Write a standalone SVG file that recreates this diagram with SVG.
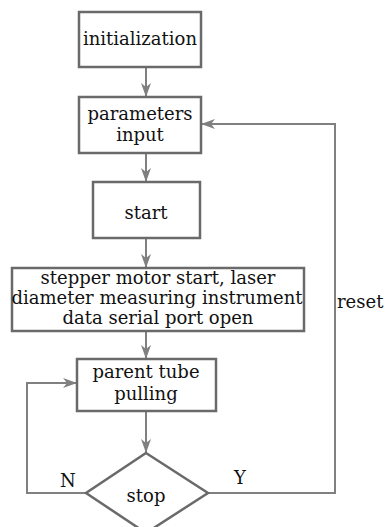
<svg xmlns="http://www.w3.org/2000/svg" width="388" height="527" viewBox="0 0 388 527">
<defs>
<style>
.box{fill:#fff;stroke:#6a6a6a;stroke-width:2.5}
.ln{fill:none;stroke:#808080;stroke-width:2}
.t{font-family:"DejaVu Serif","Liberation Serif",serif;font-size:18px;fill:#111;text-anchor:middle}
.l{font-family:"DejaVu Serif","Liberation Serif",serif;font-size:18px;fill:#111}
</style>
<marker id="ah" viewBox="0 0 14 10" refX="13" refY="5" markerWidth="14" markerHeight="10" markerUnits="userSpaceOnUse" orient="auto">
<path d="M0,0 L14,5 L0,10 L4,5 Z" fill="#808080"/>
</marker>
</defs>
<rect width="388" height="527" fill="#fff"/>
<g id="connectors">
<line class="ln" x1="146" y1="67" x2="146" y2="96" marker-end="url(#ah)"/>
<line class="ln" x1="146" y1="153" x2="146" y2="181" marker-end="url(#ah)"/>
<line class="ln" x1="146" y1="238" x2="146" y2="267" marker-end="url(#ah)"/>
<line class="ln" x1="146" y1="331" x2="146" y2="358" marker-end="url(#ah)"/>
<line class="ln" x1="146" y1="411" x2="146" y2="452" marker-end="url(#ah)"/>
<polyline class="ln" points="87,493 27,493 27,383 76,383" marker-end="url(#ah)"/>
<polyline class="ln" points="208,493 335,493 335,124 202,124" marker-end="url(#ah)"/>
<text class="l" x="60" y="487">N</text>
<text class="l" x="234" y="484">Y</text>
<text class="l" x="337" y="308">reset</text>
</g>
<g id="init">
<rect class="box" x="79" y="12" width="122" height="55"/>
<text class="t" x="140" y="45">initialization</text>
</g>
<g id="params">
<rect class="box" x="79" y="97" width="122" height="56"/>
<text class="t" x="140" y="120">parameters</text>
<text class="t" x="140" y="141">input</text>
</g>
<g id="start">
<rect class="box" x="93" y="182" width="107" height="56"/>
<text class="t" x="146" y="219">start</text>
</g>
<g id="motor">
<rect class="box" x="12" y="268" width="292" height="63"/>
<text class="t" x="158" y="284">stepper motor start, laser</text>
<text class="t" x="157" y="304">diameter measuring instrument</text>
<text class="t" x="158" y="324">data serial port open</text>
</g>
<g id="pulling">
<rect class="box" x="77" y="359" width="139" height="52"/>
<text class="t" x="146" y="378">parent tube</text>
<text class="t" x="146" y="400">pulling</text>
</g>
<g id="stop">
<polygon class="box" points="146,453 208,493 146,533 86,493"/>
<text class="t" x="146" y="502">stop</text>
</g>
</svg>
